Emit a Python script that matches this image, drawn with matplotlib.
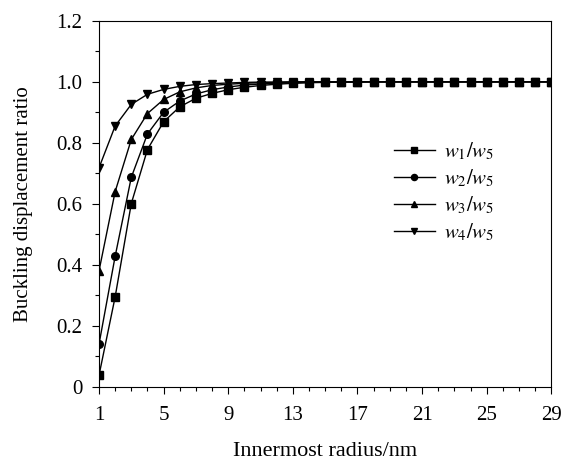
import matplotlib
matplotlib.use("Agg")
import matplotlib.pyplot as plt
from matplotlib.ticker import MultipleLocator, FixedLocator

plt.rcParams['font.family'] = ['Liberation Serif', 'DejaVu Serif']
plt.rcParams['mathtext.fontset'] = 'stix'

radius = list(range(1, 30))
w1_w5 = [0.038, 0.295, 0.601, 0.778, 0.869, 0.918, 0.946, 0.962, 0.974, 0.982, 0.988, 0.992, 0.995, 0.997, 0.998,
         0.999, 0.999, 1.0, 1.0, 1.0, 1.0, 1.0, 1.0, 1.0, 1.0, 1.0, 1.0, 1.0, 1.0]
w2_w5 = [0.14, 0.428, 0.687, 0.829, 0.90, 0.937, 0.960, 0.974, 0.983, 0.989, 0.993, 0.995, 0.997, 0.998, 0.999,
         0.999, 1.0, 1.0, 1.0, 1.0, 1.0, 1.0, 1.0, 1.0, 1.0, 1.0, 1.0, 1.0, 1.0]
w3_w5 = [0.38, 0.64, 0.811, 0.896, 0.942, 0.967, 0.980, 0.988, 0.992, 0.995, 0.997, 0.998, 0.999, 0.999, 1.0,
         1.0, 1.0, 1.0, 1.0, 1.0, 1.0, 1.0, 1.0, 1.0, 1.0, 1.0, 1.0, 1.0, 1.0]
w4_w5 = [0.718, 0.855, 0.926, 0.959, 0.975, 0.985, 0.991, 0.994, 0.996, 0.998, 0.999, 0.999, 1.0, 1.0, 1.0,
         1.0, 1.0, 1.0, 1.0, 1.0, 1.0, 1.0, 1.0, 1.0, 1.0, 1.0, 1.0, 1.0, 1.0]

labels = [r'$w_1/w_5$', r'$w_2/w_5$', r'$w_3/w_5$', r'$w_4/w_5$']
series = [w1_w5, w2_w5, w3_w5, w4_w5]
markers = ['s', 'o', '^', 'v']

xticks = [1, 5, 9, 13, 17, 21, 25, 29]
yticks = [0, 0.2, 0.4, 0.6, 0.8, 1.0, 1.2]
yticklabels = ['0', '0.2', '0.4', '0.6', '0.8', '1.0', '1.2']

fig = plt.figure(figsize=(5.64, 4.61), dpi=100)
ax = fig.add_axes([0.1755, 0.1605, 0.802, 0.7945])

for ys, m, lab in zip(series, markers, labels):
    ax.plot(radius, ys, color='black', lw=1.0, marker=m, markersize=5.5, label=lab)

ax.set_xlim(1, 29)
ax.set_ylim(0, 1.2)
ax.xaxis.set_major_locator(FixedLocator(xticks))
ax.xaxis.set_minor_locator(MultipleLocator(1))
ax.set_yticks(yticks)
ax.set_yticklabels(yticklabels)
ax.yaxis.set_minor_locator(MultipleLocator(0.1))
ax.tick_params(which='major', direction='out', length=5, width=0.8, labelsize=15)
ax.tick_params(axis='x', which='major', pad=9)
ax.tick_params(axis='y', which='major', pad=7)
ax.tick_params(which='minor', direction='out', length=3, width=0.8)
for s in ax.spines.values():
    s.set_linewidth(0.8)

ax.set_xlabel('Innermost radius/nm', fontsize=16, labelpad=12)
ax.set_ylabel('Buckling displacement ratio', fontsize=15, labelpad=17)

leg = ax.legend(loc='upper left', bbox_to_anchor=(0.61, 0.725), frameon=False, fontsize=15,
                handlelength=2.0, handletextpad=0.4, labelspacing=0.26, markerscale=0.8)

fig.savefig('out.png', dpi=100)
